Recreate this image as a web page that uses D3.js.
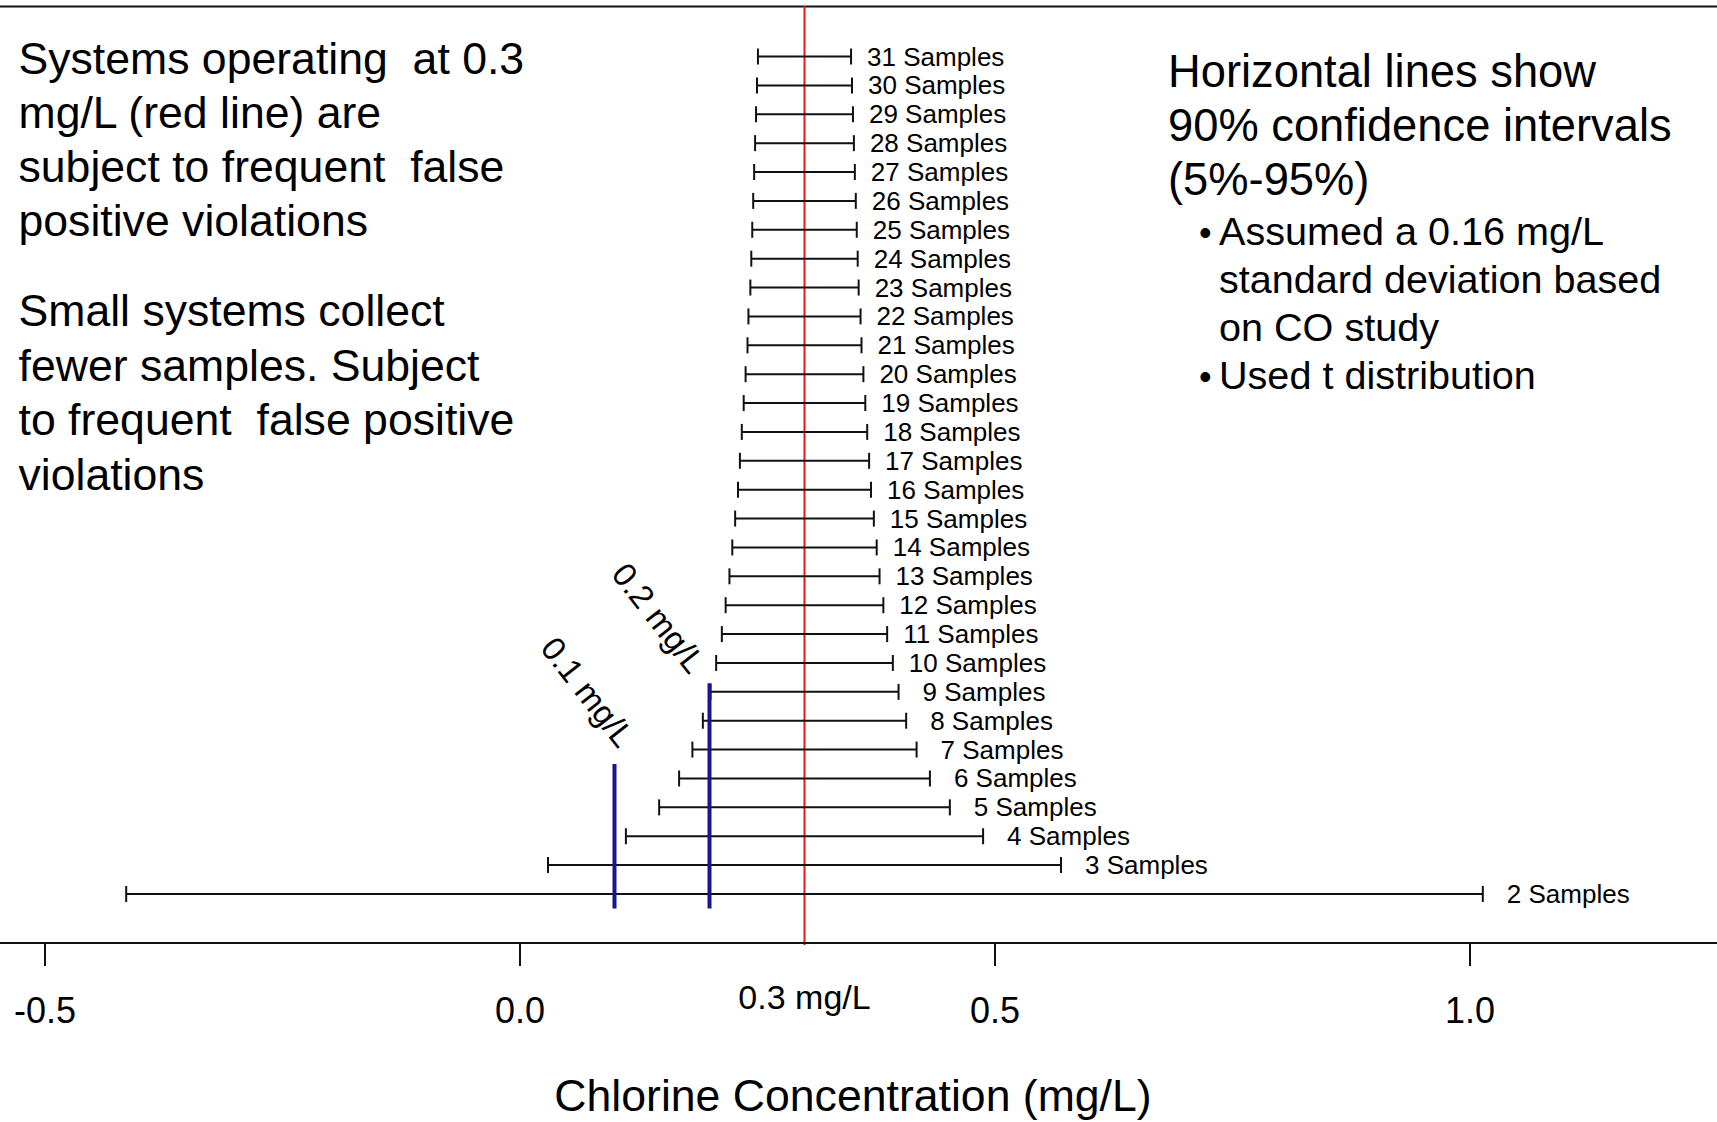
<!DOCTYPE html>
<html>
<head>
<meta charset="utf-8">
<script src="https://cdn.jsdelivr.net/npm/d3@7"></script>
<style>
  html, body { margin: 0; padding: 0; background: #fff; }
  svg { display: block; }
  text { font-family: "Liberation Sans", Arial, sans-serif; fill: #000; white-space: pre; }
</style>
</head>
<body>
<svg id="chart" width="1717" height="1122"></svg>
<script>
// ---- data ----
const sampleCounts = [31,30,29,28,27,26,25,24,23,22,21,20,19,18,17,16,15,14,13,12,11,10,9,8,7,6,5,4,3,2];
const lowerBounds  = [0.251,0.250,0.249,0.248,0.247,0.246,0.245,0.244,0.243,0.241,0.240,0.238,0.236,0.234,0.232,0.230,0.227,0.224,0.221,0.217,0.213,0.207,0.201,0.193,0.182,0.168,0.147,0.112,0.030,-0.414];
const upperBounds  = [0.349,0.350,0.351,0.352,0.353,0.354,0.355,0.356,0.357,0.359,0.360,0.362,0.364,0.366,0.368,0.370,0.373,0.376,0.379,0.383,0.387,0.393,0.399,0.407,0.418,0.432,0.453,0.488,0.570,1.014];
const targetValue = 0.3;
const targetLabel = "0.3 mg/L";
const refValues = [0.1, 0.2];
const refLabels = ["0.1 mg/L", "0.2 mg/L"];
const refTops = [6.5, 9.3];        // in "sample count" units on the row axis
const refBottom = 1.5;
const xTicks = [-0.5, 0.0, 0.5, 1.0];
const xTickLabels = ["-0.5", "0.0", "0.5", "1.0"];
const xTitle = "Chlorine Concentration (mg/L)";
const leftNotes = [
  ["Systems operating  at 0.3", "mg/L (red line) are", "subject to frequent  false", "positive violations"],
  ["Small systems collect", "fewer samples. Subject", "to frequent  false positive", "violations"]
];
const rightHeading = ["Horizontal lines show", "90% confidence intervals", "(5%-95%)"];
const rightBullets = [
  ["Assumed a 0.16 mg/L", "standard deviation based", "on CO study"],
  ["Used t distribution"]
];

// ---- layout ----
const W = 1717, H = 1122;
const svg = d3.select("#chart");
const x = d3.scaleLinear().domain([-0.5, 1.0]).range([44.5, 1469.5]);
const y = d3.scaleLinear().domain([2, 31]).range([894, 56.5]);
const axisY = 943;

const rows = sampleCounts.map((n, i) => ({n, lo: lowerBounds[i], hi: upperBounds[i]}));

// top border
svg.append("line").attr("x1", 0).attr("x2", W).attr("y1", 6.5).attr("y2", 6.5)
  .attr("stroke", "#111").attr("stroke-width", 2);

// red target line
svg.append("line").attr("x1", x(targetValue)).attr("x2", x(targetValue))
  .attr("y1", 6).attr("y2", axisY + 2)
  .attr("stroke", "#f01414").attr("stroke-width", 2);

// error bars
const g = svg.append("g").attr("stroke", "#111").attr("stroke-width", 2);
const bar = g.selectAll("g.bar").data(rows).join("g").attr("class", "bar");
bar.append("line").attr("x1", d => x(d.lo)).attr("x2", d => x(d.hi))
  .attr("y1", d => y(d.n)).attr("y2", d => y(d.n));
bar.append("line").attr("x1", d => x(d.lo)).attr("x2", d => x(d.lo))
  .attr("y1", d => y(d.n) - 8).attr("y2", d => y(d.n) + 8);
bar.append("line").attr("x1", d => x(d.hi)).attr("x2", d => x(d.hi))
  .attr("y1", d => y(d.n) - 8).attr("y2", d => y(d.n) + 8);

svg.append("g").selectAll("text").data(rows).join("text")
  .attr("x", d => x(d.hi) + (d.n < 10 ? 24 : 16))
  .attr("y", d => y(d.n) + 9)
  .attr("font-size", 26)
  .text(d => d.n + " Samples");

// blue reference lines
svg.append("g").selectAll("line").data(refValues).join("line")
  .attr("x1", d => x(d)).attr("x2", d => x(d))
  .attr("y1", (d, i) => y(refTops[i])).attr("y2", y(refBottom))
  .attr("stroke", "#161690").attr("stroke-width", 4);

const refLabelPos = [[588, 692], [659, 618]];
svg.append("g").selectAll("text").data(refLabels).join("text")
  .attr("transform", (d, i) => `translate(${refLabelPos[i][0]},${refLabelPos[i][1]}) rotate(52)`)
  .attr("text-anchor", "middle").attr("dy", "0.35em")
  .attr("font-size", 33)
  .text(d => d);

// x axis
svg.append("line").attr("x1", 0).attr("x2", W).attr("y1", axisY).attr("y2", axisY)
  .attr("stroke", "#111").attr("stroke-width", 2);
const axis = d3.axisBottom(x).tickValues(xTicks).tickSize(23).tickPadding(31)
  .tickFormat((d, i) => xTickLabels[i]);
const ax = svg.append("g").attr("transform", `translate(0,${axisY})`).call(axis);
ax.select(".domain").remove();
ax.selectAll(".tick line").attr("stroke", "#111").attr("stroke-width", 2);
ax.selectAll(".tick text").attr("font-size", 36).attr("fill", "#000")
  .attr("font-family", "Liberation Sans, Arial, sans-serif");

svg.append("text").attr("x", x(targetValue)).attr("y", 1009)
  .attr("text-anchor", "middle").attr("font-size", 34).text(targetLabel);

svg.append("text").attr("x", 853).attr("y", 1111)
  .attr("text-anchor", "middle").attr("font-size", 44.6).text(xTitle);

// left notes
const leftBase = [73.5, 326];
const leftStep = [54, 54.5];
leftNotes.forEach((para, p) => {
  para.forEach((line, i) => {
    svg.append("text").attr("x", 18.5).attr("y", leftBase[p] + i * leftStep[p])
      .attr("font-size", 44.6).text(line);
  });
});

// right notes
rightHeading.forEach((line, i) => {
  svg.append("text").attr("x", 1168).attr("y", 87 + i * 54.2)
    .attr("font-size", 45.3).text(line);
});
let by = 245;
rightBullets.forEach(b => {
  svg.append("text").attr("x", 1199).attr("y", by).attr("font-size", 36).text("•");
  b.forEach(line => {
    svg.append("text").attr("x", 1219).attr("y", by).attr("font-size", 39.6).text(line);
    by += 48;
  });
});
</script>
</body>
</html>
